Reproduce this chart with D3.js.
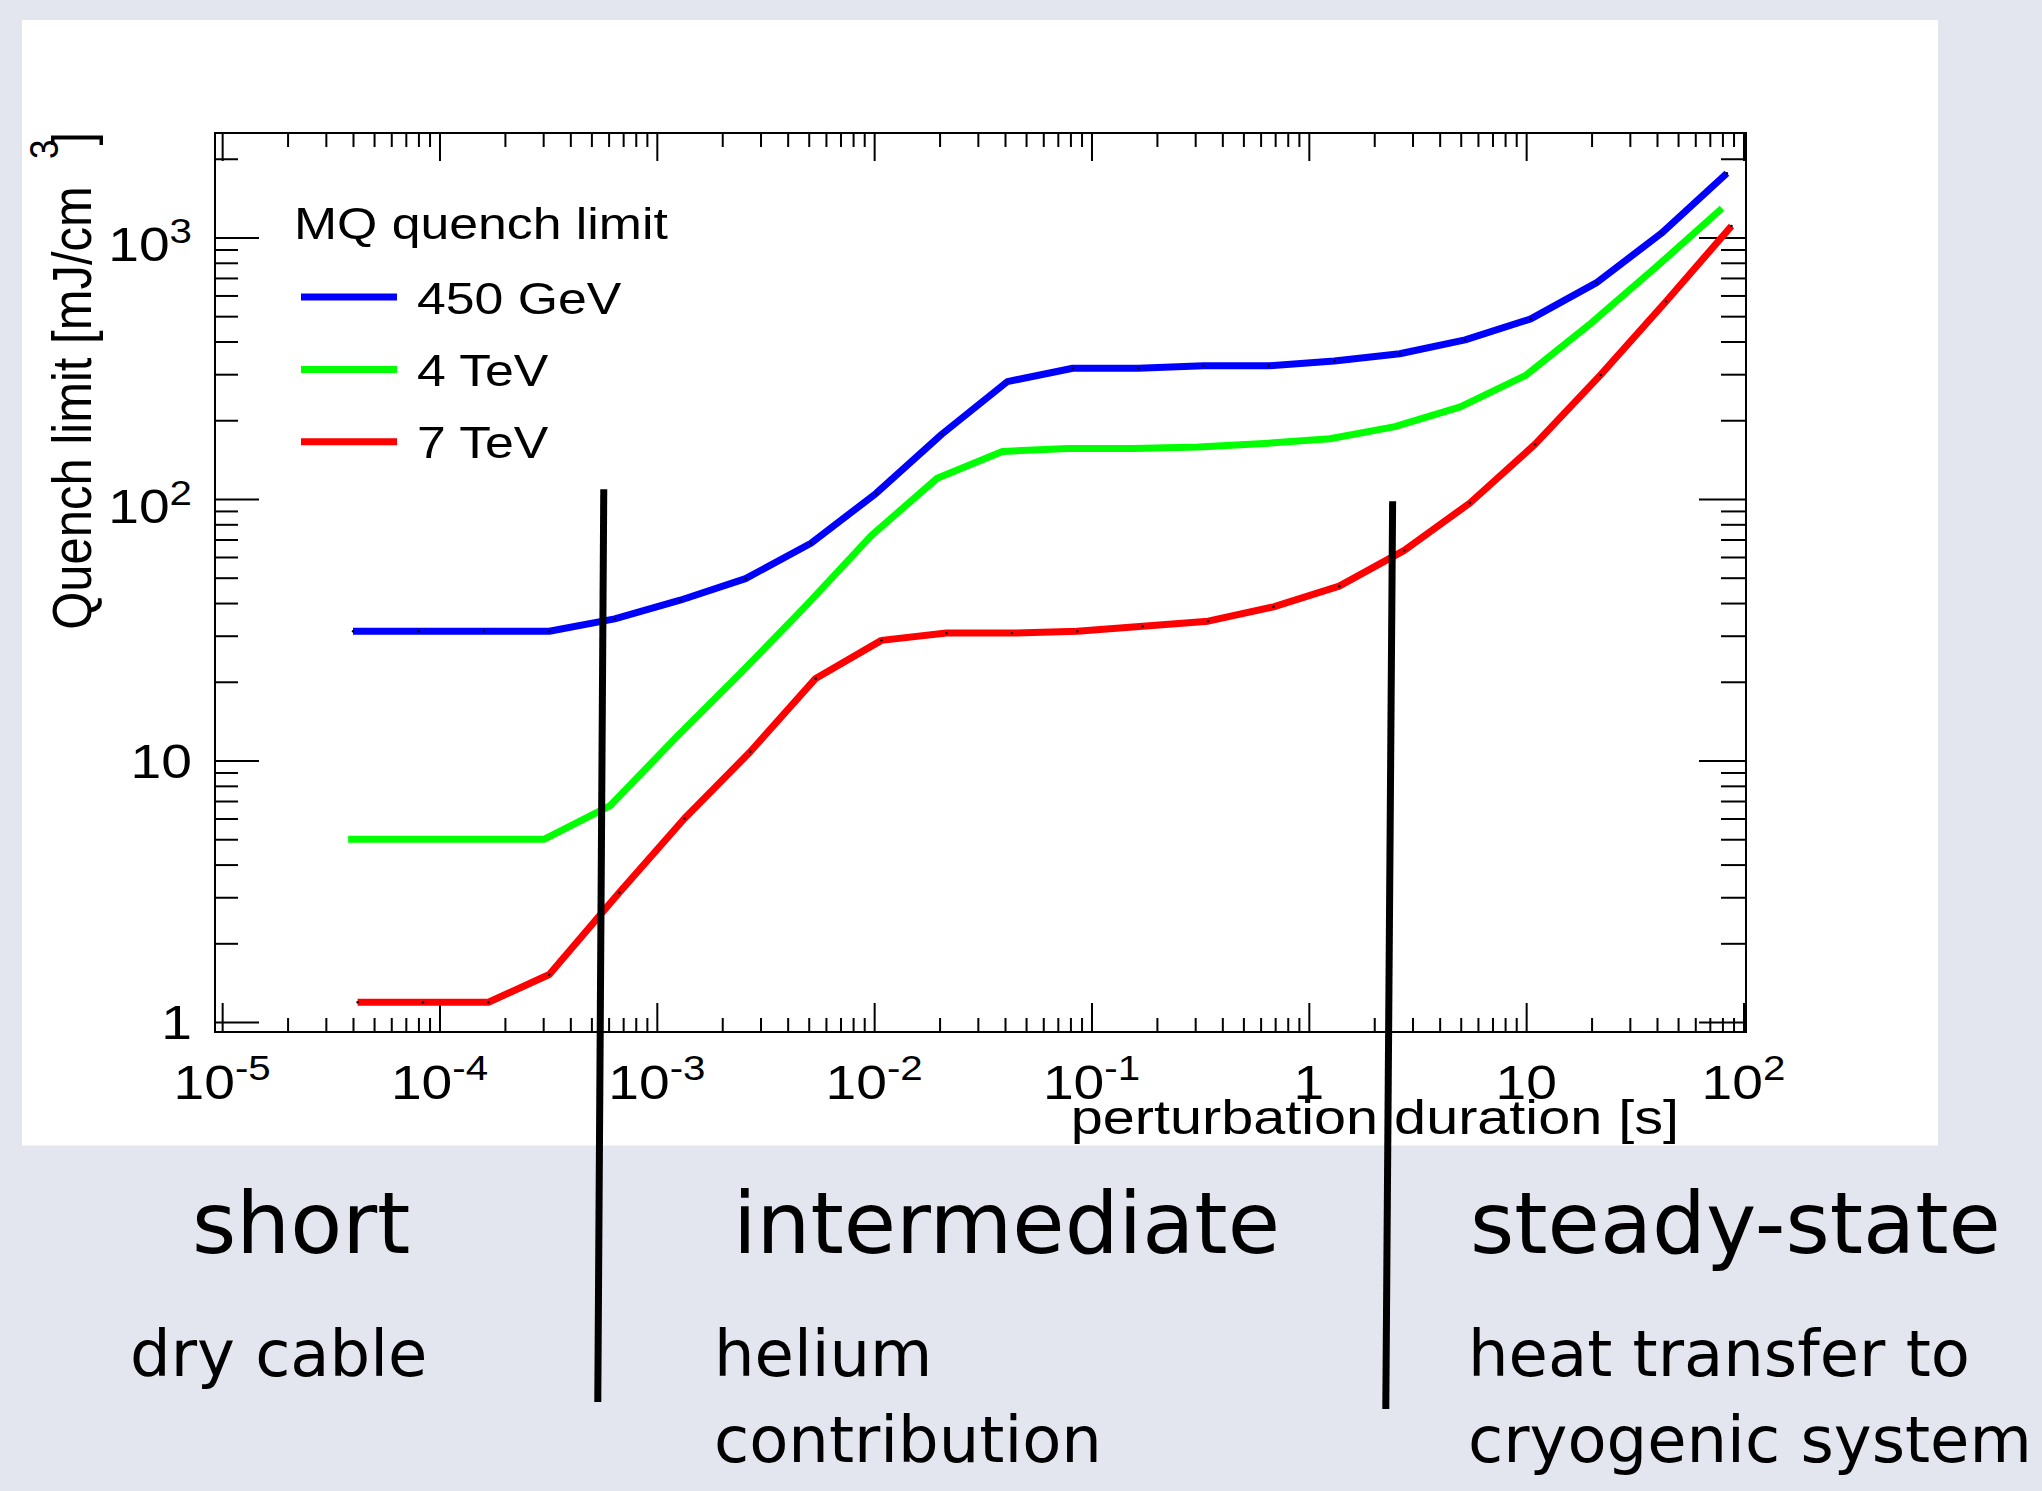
<!DOCTYPE html>
<html>
<head>
<meta charset="utf-8">
<script src="https://cdn.jsdelivr.net/npm/d3@7"></script>
<style>
  html, body { margin: 0; padding: 0; background: #e3e6ee; }
  svg { display: block; }
</style>
</head>
<body>
<svg id="chart" width="2042" height="1491"></svg>
<script>
// perturbation duration [s] and quench limit [mJ/cm^3]
const durBlue = [4.0e-5, 8.0e-5, 1.6e-4, 3.2e-4, 6.4e-4, 1.28e-3, 2.56e-3, 5.12e-3, 1.02e-2, 2.05e-2, 4.1e-2, 8.2e-2, 0.164, 0.328, 0.655, 1.31, 2.62, 5.24, 10.5, 21.0, 41.9, 83.9];
const qBlue = [31.2, 31.2, 31.2, 31.2, 34.8, 41.0, 49.6, 67.7, 105, 177, 281, 316, 316, 323, 323, 337, 359, 406, 488, 670, 1037, 1759];

const durGreen = [3.8e-5, 7.6e-5, 1.52e-4, 3.04e-4, 6.08e-4, 1.22e-3, 2.43e-3, 4.86e-3, 9.73e-3, 1.95e-2, 3.89e-2, 7.78e-2, 0.156, 0.311, 0.623, 1.25, 2.49, 4.98, 9.96, 19.9, 39.8, 79.7];
const qGreen = [5.0, 5.0, 5.0, 5.0, 6.7, 12.2, 21.6, 39.1, 72.6, 120, 152, 156, 156, 158, 163, 170, 189, 225, 297, 470, 773, 1293];

const durRed = [4.2e-5, 8.4e-5, 1.68e-4, 3.2e-4, 6.72e-4, 1.34e-3, 2.69e-3, 5.38e-3, 1.08e-2, 2.15e-2, 4.3e-2, 8.6e-2, 0.172, 0.344, 0.688, 1.38, 2.75, 5.51, 11.0, 22.0, 44.0, 88.1];
const qRed = [1.19, 1.19, 1.19, 1.52, 3.13, 6.0, 10.8, 20.6, 28.8, 30.7, 30.7, 31.2, 32.6, 34.1, 38.7, 46.4, 63.6, 96.5, 162, 298, 569, 1106];

const seriesNames = ["450 GeV", "4 TeV", "7 TeV"];
const seriesColors = ["#0000ff", "#00ff00", "#ff0000"];
const legendTitle = "MQ quench limit";

const xMajor = [1e-5, 1e-4, 1e-3, 1e-2, 1e-1, 1, 10, 100];
const xLabelBase = ["10", "10", "10", "10", "10", "1", "10", "10"];
const xLabelExp = ["-5", "-4", "-3", "-2", "-1", "", "", "2"];
const yMajor = [1, 10, 100, 1000];
const yLabelBase = ["1", "10", "10", "10"];
const yLabelExp = ["", "", "2", "3"];

const xTitle = "perturbation duration [s]";
const yTitle = "Quench limit [mJ/cm";

// regime dividers (duration at top / bottom end, quench limit at top end)
const dividerTopDur = [5.7e-4, 2.43];
const dividerBotDur = [5.35e-4, 2.26];
const dividerTopQ = [109, 98];

const regionTitles = ["short", "intermediate", "steady-state"];
const regionNotes = [["dry cable"], ["helium", "contribution"], ["heat transfer to", "cryogenic system"]];

// ---------------------------------------------------------------
const svg = d3.select("#chart");
const frame = { left: 215, right: 1746, top: 133, bottom: 1032 };
const panel = { x: 22, y: 20, w: 1916, h: 1125.5 };
const stretch = 1.15;   // the ROOT picture is a bit wider than tall
const rootFont = "'Liberation Sans', Arial, Helvetica, sans-serif";
const slideFont = "'DejaVu Sans', Verdana, sans-serif";

const x = d3.scaleLog().domain([9.27e-6, 102.7]).range([frame.left, frame.right]);
const y = d3.scaleLog().domain([0.916, 2508]).range([frame.bottom, frame.top]);

svg.append("defs").append("clipPath").attr("id", "panelClip")
    .append("rect").attr("x", panel.x).attr("y", panel.y).attr("width", panel.w).attr("height", panel.h);

svg.append("rect")
    .attr("x", panel.x).attr("y", panel.y)
    .attr("width", panel.w).attr("height", panel.h)
    .attr("fill", "#ffffff");

const root = svg.append("g").attr("clip-path", "url(#panelClip)");

function rootText(g, px, py, anchor, size, sx) {
    return g.append("text")
        .attr("transform", `translate(${px},${py}) scale(${sx || stretch},1)`)
        .attr("text-anchor", anchor)
        .style("font-family", rootFont)
        .style("font-size", size + "px")
        .attr("fill", "#000");
}

// ticks
const xMinor = x.ticks().filter(v => !xMajor.some(m => Math.abs(m - v) / m < 1e-6));
const yMinor = y.ticks().filter(v => !yMajor.some(m => Math.abs(m - v) / m < 1e-6));

function tickAxis(axis, tx, ty) {
    root.append("g")
        .attr("transform", `translate(${tx},${ty})`)
        .call(axis)
        .call(g => g.select(".domain").remove())
        .call(g => g.selectAll("line").attr("stroke", "#000").attr("stroke-width", 2));
}

tickAxis(d3.axisBottom(x).tickValues(xMajor).tickSize(-29).tickFormat(""), 0, frame.bottom);
tickAxis(d3.axisBottom(x).tickValues(xMinor).tickSize(-14).tickFormat(""), 0, frame.bottom);
tickAxis(d3.axisTop(x).tickValues(xMajor).tickSize(-28).tickFormat(""), 0, frame.top);
tickAxis(d3.axisTop(x).tickValues(xMinor).tickSize(-14).tickFormat(""), 0, frame.top);
tickAxis(d3.axisLeft(y).tickValues(yMajor).tickSize(-44).tickFormat(""), frame.left, 0);
tickAxis(d3.axisLeft(y).tickValues(yMinor).tickSize(-23).tickFormat(""), frame.left, 0);
tickAxis(d3.axisRight(y).tickValues(yMajor).tickSize(-47).tickFormat(""), frame.right, 0);
tickAxis(d3.axisRight(y).tickValues(yMinor).tickSize(-25).tickFormat(""), frame.right, 0);

root.append("rect")
    .attr("x", frame.left).attr("y", frame.top)
    .attr("width", frame.right - frame.left).attr("height", frame.bottom - frame.top)
    .attr("fill", "none").attr("stroke", "#000").attr("stroke-width", 2);

// tick labels
xMajor.forEach((v, i) => {
    let t = rootText(root, x(v), 1099, "middle", 48);
    t.append("tspan").text(xLabelBase[i]);
    if (xLabelExp[i]) t.append("tspan").attr("dy", -19).style("font-size", "35px").text(xLabelExp[i]);
});
yMajor.forEach((v, i) => {
    let hasExp = yLabelExp[i] != "";
    let t = rootText(root, 192, y(v) + (hasExp ? 24 : 17), "end", 48);
    t.append("tspan").text(yLabelBase[i]);
    if (hasExp) t.append("tspan").attr("dy", -18).style("font-size", "35px").text(yLabelExp[i]);
});

// axis titles
rootText(root, 1679, 1134, "end", 48, 1.2).text(xTitle);

let yt = root.append("text")
    .attr("transform", `translate(91,${frame.top - 1}) scale(${stretch},1) rotate(-90)`)
    .attr("text-anchor", "end")
    .style("font-family", rootFont)
    .style("font-size", "49px");
yt.append("tspan").text(yTitle);
yt.append("tspan").attr("dx", 27).attr("dy", -29).style("font-size", "35px").text("3");
yt.append("tspan").attr("dx", -6).attr("dy", 29).text("]");

// curves
const series = [
    { name: seriesNames[0], color: seriesColors[0], pts: d3.zip(durBlue, qBlue), dots: true },
    { name: seriesNames[1], color: seriesColors[1], pts: d3.zip(durGreen, qGreen), dots: false },
    { name: seriesNames[2], color: seriesColors[2], pts: d3.zip(durRed, qRed), dots: true }
];

const line = d3.line().x(d => x(d[0])).y(d => y(d[1]));

series.forEach(s => {
    root.append("path")
        .attr("d", line(s.pts))
        .attr("fill", "none")
        .attr("stroke", s.color)
        .attr("stroke-width", 7)
        .attr("stroke-linejoin", "round");
    if (s.dots) {
        root.append("g").selectAll("circle").data(s.pts).join("circle")
            .attr("cx", d => x(d[0])).attr("cy", d => y(d[1]))
            .attr("r", 1.2).attr("fill", "#000");
    }
});

// legend
rootText(root, 294, 239, "start", 45).text(legendTitle);
series.forEach((s, i) => {
    let ly = 297 + i * 72.4;
    root.append("line")
        .attr("x1", 301).attr("x2", 397).attr("y1", ly).attr("y2", ly)
        .attr("stroke", s.color).attr("stroke-width", 7);
    rootText(root, 417, ly + 16.5, "start", 45).text(s.name);
});

// dividers between the three regimes
const dividerBottomPx = [1402, 1409];
dividerTopDur.forEach((d, i) => {
    svg.append("line")
        .attr("x1", x(d)).attr("y1", y(dividerTopQ[i]))
        .attr("x2", x(dividerBotDur[i])).attr("y2", dividerBottomPx[i])
        .attr("stroke", "#000").attr("stroke-width", 7);
});

// slide text below the plot
const titleX = [192, 733, 1470];
const noteX = [130, 714, 1468];
regionTitles.forEach((t, i) => {
    svg.append("text")
        .attr("x", titleX[i]).attr("y", 1253)
        .style("font-family", slideFont).style("font-size", "85px")
        .attr("fill", "#000").text(t);
    regionNotes[i].forEach((n, j) => {
        svg.append("text")
            .attr("x", noteX[i]).attr("y", 1376 + j * 86)
            .style("font-family", slideFont).style("font-size", "64px")
            .attr("fill", "#000").text(n);
    });
});
</script>
</body>
</html>
